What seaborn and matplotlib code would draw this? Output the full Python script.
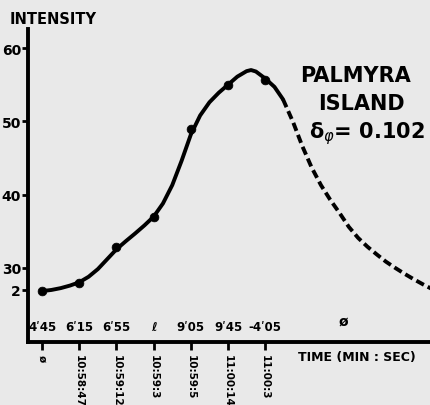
import matplotlib
matplotlib.use("Agg")
import matplotlib.pyplot as plt
import matplotlib.transforms as mtransforms
import seaborn as sns
import pandas as pd

# ---- data ----
point_x = [0, 1, 2, 3, 4, 5, 6]
point_y = [26.85, 27.94, 32.85, 36.95, 48.95, 54.95, 55.6]

solid_x = [0.0, 0.25, 0.5, 0.75, 1.0, 1.25, 1.5, 1.75, 2.0, 2.25, 2.5, 2.75, 3.0,
           3.25, 3.5, 3.75, 4.0, 4.25, 4.5, 4.75, 5.0, 5.25, 5.5, 5.62, 5.75,
           6.0, 6.25, 6.48]
solid_y = [26.85, 27.0, 27.25, 27.6, 28.05, 28.8, 29.85, 31.2, 32.55, 33.65, 34.7,
           35.8, 37.0, 38.8, 41.3, 44.6, 48.2, 50.8, 52.6, 53.9, 55.0, 56.1, 56.85,
           57.0, 56.8, 55.85, 54.7, 53.0]

dashed_x = [6.48, 6.75, 7.0, 7.25, 7.5, 7.75, 8.0, 8.25, 8.5, 8.75, 9.0, 9.25,
            9.5, 9.75, 10.0, 10.25, 10.46]
dashed_y = [53.0, 49.9, 46.6, 43.7, 41.3, 39.3, 37.5, 35.6, 34.1, 32.9, 31.85,
            30.85, 30.0, 29.2, 28.45, 27.75, 27.2]

ytick_vals = [60, 50, 40, 30, 27]
ytick_labels = ["60", "50", "40", "30", "2"]

xtick_pos = [0, 1, 2, 3, 4, 5, 6]
upper_labels = ["4ʹ45", "6ʹ15", "6ʹ55", "ℓ", "9ʹ05", "9ʹ45", "-4ʹ05"]
lower_labels = ["ø", "10:58:47", "10:59:12", "10:59:3", "10:59:5", "11:00:14", "11:00:3"]
extra_upper_pos = 8.1
extra_upper_label = "ø"

sns.set_style("ticks")
plt.rcParams["font.family"] = ["DejaVu Sans"]
plt.rcParams["text.color"] = "black"
plt.rcParams["xtick.color"] = "black"
plt.rcParams["ytick.color"] = "black"
plt.rcParams["xtick.labelcolor"] = "black"
plt.rcParams["ytick.labelcolor"] = "black"

bg = "#e9e9e9"
fig = plt.figure(figsize=(4.31, 4.06), dpi=100, facecolor=bg)
ax = fig.add_axes([28 / 431, (406 - 343) / 406, 1 - 28 / 431, (343 - 30) / 406])
ax.set_facecolor(bg)

df_solid = pd.DataFrame({"t": solid_x, "i": solid_y})
df_dash = pd.DataFrame({"t": dashed_x, "i": dashed_y})
df_pts = pd.DataFrame({"t": point_x, "i": point_y})

sns.lineplot(data=df_solid, x="t", y="i", ax=ax, color="black", lw=2.8,
             sort=False, estimator=None)
sns.lineplot(data=df_dash, x="t", y="i", ax=ax, color="black", lw=2.8,
             sort=False, estimator=None, linestyle=(0, (2.2, 1.1)))
sns.scatterplot(data=df_pts, x="t", y="i", ax=ax, color="black", s=40,
                edgecolor="black", zorder=5)

ax.set_xlim(-0.38, 10.46)
ax.set_ylim(19.9, 62.6)

for s in ["top", "right"]:
    ax.spines[s].set_visible(False)
for s in ["left", "bottom"]:
    ax.spines[s].set_linewidth(2.8)
    ax.spines[s].set_color("black")

ax.set_yticks(ytick_vals)
ax.set_yticklabels(ytick_labels, fontsize=10, fontweight="bold", color="black")
ax.tick_params(axis="y", length=4, width=2, pad=1, colors="black")

ax.set_xticks(xtick_pos)
ax.set_xticklabels(lower_labels, rotation=-90, fontsize=7.5, fontweight="bold",
                   va="top", ha="center", color="black")
ax.tick_params(axis="x", length=6, width=2, pad=3, direction="out", colors="black")
ax.set_xlabel("")
ax.set_ylabel("")

trans = mtransforms.blended_transform_factory(ax.transData, ax.transAxes)
for x, lab in zip(xtick_pos, upper_labels):
    ax.text(x, 0.05, lab, transform=trans, ha="center", va="center",
            fontsize=8.5, fontweight="bold", color="black")
ax.text(extra_upper_pos, 0.07, extra_upper_label, transform=trans, ha="center",
        va="center", fontsize=10, fontweight="bold", color="black")

fig.text(10 / 431, 1 - 19 / 406, "INTENSITY", ha="left", va="center",
         fontsize=10.5, fontweight="bold", color="black")
fig.text(298 / 431, 1 - 358 / 406, "TIME (MIN : SEC)", ha="left", va="center",
         fontsize=9, fontweight="bold", color="black")

fig.text(356 / 431, 1 - 76 / 406, "PALMYRA", ha="center", va="center",
         fontsize=15, fontweight="bold", color="black")
fig.text(361 / 431, 1 - 104 / 406, "ISLAND", ha="center", va="center",
         fontsize=15, fontweight="bold", color="black")
fig.text(367 / 431, 1 - 134 / 406, "δ$_φ$= 0.102", ha="center", va="center",
         fontsize=15, fontweight="bold", color="black")

fig.savefig("out.png", dpi=100, facecolor=bg)
